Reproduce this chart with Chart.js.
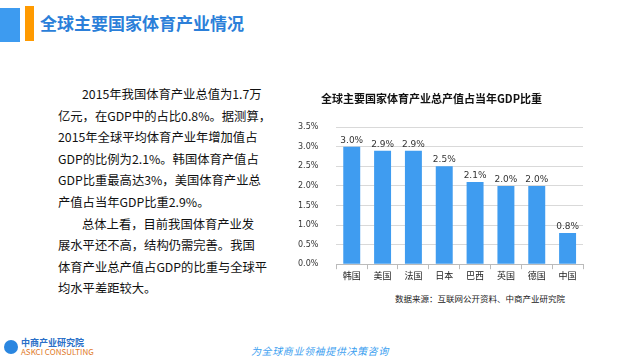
<!DOCTYPE html>
<html>
<head>
<meta charset="utf-8">
<script src="https://cdn.jsdelivr.net/npm/chart.js@4.4.0/dist/chart.umd.min.js"></script>
<style>
  body { margin: 0; width: 625px; height: 360px; background: #fff; position: relative; overflow: hidden;
         font-family: "Noto Sans CJK SC", sans-serif; }
  .blk { position: absolute; }
  #head { left: 40px; top: 10px; font-size: 17px; color: #2b7fd9; font-weight: bold; }
  #txt { left: 58px; top: 84px; font-size: 12.3px; color: #111; white-space: nowrap; }
  #txt div { height: 21.6px; line-height: 21.6px; }
  #txt .ind { padding-left: 24px; }
  #wrap { left: 280px; top: 84px; width: 320px; height: 203px; }
  #src { left: 395px; top: 292px; font-size: 8.5px; color: #222; white-space: nowrap; }
  #logo { left: 4px; top: 338px; font-size: 8px; color: #e07a2a; line-height: 9px; white-space: nowrap; }
  #slogan { left: 251px; top: 343px; font-size: 10px; color: #3ba0f0; font-style: italic; letter-spacing: 0.6px; white-space: nowrap; }
</style>
</head>
<body>
<div class="blk" style="left:0;top:8px;width:20px;height:34px;background:#3d9bf0"></div>
<div class="blk" style="left:25px;top:6px;width:9px;height:35px;background:#ff9a00"></div>
<div class="blk" id="head">全球主要国家体育产业情况</div>

<div class="blk" id="txt">
  <div class="ind">2015年我国体育产业总值为1.7万</div>
  <div>亿元，在GDP中的占比0.8%。据测算，</div>
  <div>2015年全球平均体育产业年增加值占</div>
  <div>GDP的比例为2.1%。韩国体育产值占</div>
  <div>GDP比重最高达3%，美国体育产业总</div>
  <div>产值占当年GDP比重2.9%。</div>
  <div class="ind">总体上看，目前我国体育产业发</div>
  <div>展水平还不高，结构仍需完善。我国</div>
  <div>体育产业总产值占GDP的比重与全球平</div>
  <div>均水平差距较大。</div>
</div>

<div class="blk" id="wrap"><canvas id="chart"></canvas></div>
<div class="blk" id="src">数据来源：互联网公开资料、中商产业研究院</div>

<div class="blk" id="logo">
  <div style="display:flex;align-items:center;gap:3px">
    <div style="width:14px;height:14px;border-radius:50%;background:#2a86e0"></div>
    <div><span style="color:#2a6fc8;font-size:9px;font-weight:bold">中商产业研究院</span><br>ASKCI CONSULTING</div>
  </div>
</div>
<div class="blk" id="slogan">为全球商业领袖提供决策咨询</div>

<script>
const categories = ['韩国', '美国', '法国', '日本', '巴西', '英国', '德国', '中国'];
const shareValues = [3.0, 2.9, 2.9, 2.5, 2.1, 2.0, 2.0, 0.8];
const yTicks = [0, 0.5, 1.0, 1.5, 2.0, 2.5, 3.0, 3.5];

// draws the value over each bar
const valueLabels = {
    id: 'valueLabels',
    afterDatasetsDraw(chart) {
        const ctx = chart.ctx;
        ctx.save();
        ctx.font = '9px "DejaVu Sans", sans-serif';
        ctx.fillStyle = '#333';
        ctx.textAlign = 'center';
        ctx.textBaseline = 'bottom';
        chart.getDatasetMeta(0).data.forEach((bar, i) => {
            ctx.fillText(shareValues[i].toFixed(1) + '%', bar.x, bar.y - 2);
        });
        ctx.restore();
    }
};

new Chart(document.getElementById('chart'), {
    type: 'bar',
    data: {
        labels: categories,
        datasets: [{
            data: shareValues,
            backgroundColor: '#3f9cf0',
            categoryPercentage: 0.55,
            barPercentage: 1.0
        }]
    },
    options: {
        responsive: true,
        maintainAspectRatio: false,
        animation: false,
        layout: { padding: { left: 0, right: 17, top: 8, bottom: 0 } },
        plugins: {
            legend: { display: false },
            tooltip: { enabled: false },
            title: {
                display: true,
                text: '全球主要国家体育产业总产值占当年GDP比重',
                color: '#111',
                font: { family: '"Noto Sans CJK SC"', size: 11, weight: 'bold' },
                padding: { top: 0, bottom: 22 }
            }
        },
        scales: {
            x: {
                grid: { offset: true, drawOnChartArea: false, color: '#bbb', tickLength: 5 },
                border: { color: '#bbb' },
                ticks: { color: '#222', font: { family: '"Noto Sans CJK SC"', size: 9 }, padding: 1 }
            },
            y: {
                min: 0,
                max: 3.5,
                afterBuildTicks(axis) { axis.ticks = yTicks.map(v => ({ value: v })); },
                grid: { color: '#d9d9d9', drawTicks: false },
                border: { display: false },
                ticks: {
                    color: '#333',
                    font: { family: '"DejaVu Sans"', size: 8 },
                    padding: 18,
                    callback: v => v.toFixed(1) + '%'
                }
            }
        }
    },
    plugins: [valueLabels]
});
</script>
</body>
</html>
